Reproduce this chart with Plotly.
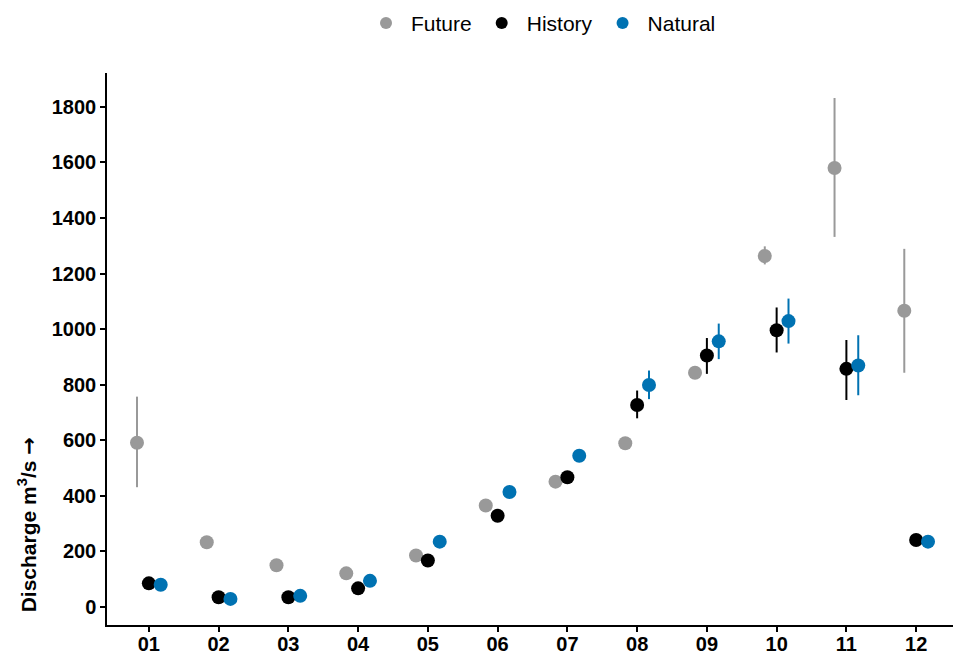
import plotly.graph_objects as go

months = ["01", "02", "03", "04", "05", "06", "07", "08", "09", "10", "11", "12"]
series = ["Future", "History", "Natural"]
colors = {"Future": "#999999", "History": "#000000", "Natural": "#0072B2"}
dodge = {"Future": -0.17, "History": 0.0, "Natural": 0.17}
y_ticks = [0, 200, 400, 600, 800, 1000, 1200, 1400, 1600, 1800]

future_mean = [591, 233, 150, 121, 185, 365, 451, 589, 843, 1263, 1580, 1066]
future_low = [431, 233, 150, 121, 185, 365, 451, 589, 843, 1233, 1332, 843]
future_high = [757, 233, 150, 121, 185, 365, 451, 589, 843, 1298, 1832, 1289]

history_mean = [85, 35, 35, 67, 167, 328, 467, 727, 905, 996, 857, 241]
history_low = [85, 35, 35, 67, 167, 328, 467, 679, 839, 916, 745, 241]
history_high = [85, 35, 35, 67, 167, 328, 467, 779, 968, 1078, 961, 241]

natural_mean = [80, 29, 40, 94, 235, 414, 544, 799, 956, 1029, 869, 235]
natural_low = [80, 29, 40, 94, 235, 414, 544, 748, 892, 948, 762, 235]
natural_high = [80, 29, 40, 94, 235, 414, 544, 851, 1020, 1110, 978, 235]

data = {
    "Future": (future_mean, future_low, future_high),
    "History": (history_mean, history_low, history_high),
    "Natural": (natural_mean, natural_low, natural_high),
}

fig = go.Figure()
for s in series:
    mean, low, high = data[s]
    xs = [i + 1 + dodge[s] for i in range(len(months))]
    fig.add_trace(go.Scatter(
        x=xs, y=mean, mode="markers", name=s,
        marker=dict(color=colors[s], size=14, line=dict(width=0)),
        error_y=dict(type="data", symmetric=False,
                     array=[h - m for h, m in zip(high, mean)],
                     arrayminus=[m - l for m, l in zip(mean, low)],
                     color=colors[s], thickness=2, width=0),
    ))

font_family = "Liberation Sans, Arial, sans-serif"
fig.update_layout(
    width=953, height=648,
    paper_bgcolor="white", plot_bgcolor="white",
    margin=dict(l=99, r=3, t=65, b=31, autoexpand=False),
    font=dict(family=font_family, color="black", size=20),
    legend=dict(orientation="h", x=0.51, xanchor="center", xref="paper",
                y=1.09, yanchor="middle", yref="paper",
                font=dict(size=21, color="black"), itemwidth=40,
                itemsizing="constant", traceorder="normal"),
    showlegend=True,
)
fig.update_xaxes(
    range=[0.4, 12.6], tickmode="array",
    tickvals=list(range(1, len(months) + 1)), ticktext=[f"<b>{m}</b>" for m in months],
    showline=True, linecolor="black", linewidth=1.5, ticks="outside", ticklen=5,
    tickwidth=1.5, tickcolor="black", showgrid=False, zeroline=False,
    tickfont=dict(size=20, color="black"), ticklabelstandoff=-5,
)
fig.update_yaxes(
    range=[-65, 1922], tickmode="array",
    tickvals=y_ticks, ticktext=[f"<b>{v}</b>" for v in y_ticks],
    showline=True, linecolor="black", linewidth=1.5, ticks="outside", ticklen=5,
    tickwidth=1.5, tickcolor="black", showgrid=False, zeroline=False,
    tickfont=dict(size=20, color="black"),
)
fig.add_annotation(
    text="<b>Discharge m<sup>3</sup>/s <span style='font-family:DejaVu Sans'>→</span></b>",
    textangle=-90, xref="paper", yref="paper", x=-0.093, y=0.02,
    xanchor="center", yanchor="bottom", showarrow=False,
    font=dict(size=21, color="black"),
)
fig.write_html("out.html")
